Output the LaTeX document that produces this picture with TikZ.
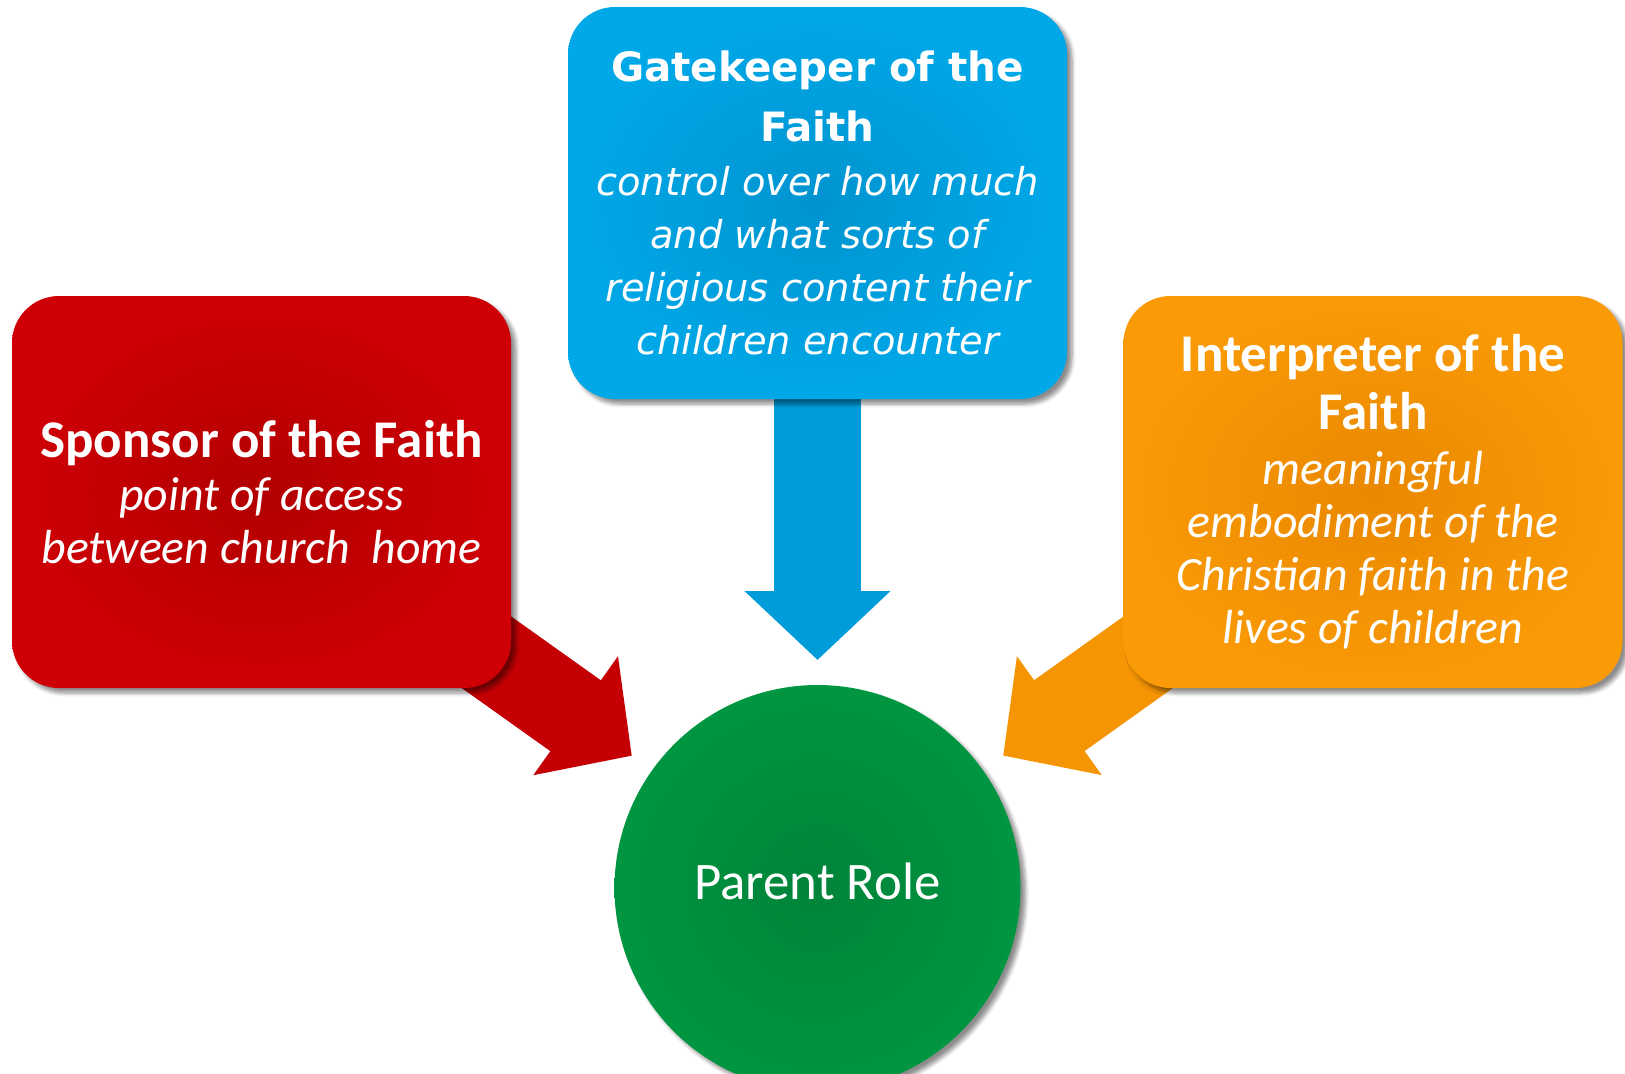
\documentclass[tikz,border=0pt]{standalone}
\usepackage{fontspec}
\setmainfont{Carlito}
\newfontfamily\gatefont{DejaVu Sans}
\usetikzlibrary{calc,arrows.meta,shadows.blur,backgrounds}

\definecolor{sponsorin}{HTML}{B20000}
\definecolor{sponsorout}{HTML}{CE0006}
\definecolor{gatein}{HTML}{0094D0}
\definecolor{gateout}{HTML}{00A8E8}
\definecolor{interpin}{HTML}{EA8800}
\definecolor{interpout}{HTML}{FA9A06}
\definecolor{parentin}{HTML}{00843A}
\definecolor{parentout}{HTML}{009540}

\tikzset{
  rolebox/.style={rectangle, rounded corners=23.5pt, minimum width=249.5pt,
    minimum height=196pt, inner sep=0pt, text=white, align=center,
    shading=radial,
    blur shadow={shadow xshift=2.5pt, shadow yshift=-2.5pt, shadow blur steps=6, shadow opacity=45}},
  rolearrow/.style={line width=43.5pt, -{Triangle[width=71pt,length=34.5pt]}},
}

\begin{document}
\begin{tikzpicture}[x=0.5pt,y=-0.5pt]
  \path[use as bounding box] (0,0) rectangle (1625,1073);
  \clip (0,0) rectangle (1625,1073);

  \node[rolebox, inner color=gatein, outer color=gateout,
        font=\gatefont\fontsize{19.2pt}{26.5pt}\selectfont] (gatekeeper) at (817.5,203)
    {{\bfseries\fontsize{20.2pt}{26.5pt}\selectfont Gatekeeper of the}\\[3.5pt]
     {\bfseries\fontsize{20.2pt}{26.5pt}\selectfont Faith}\\[0.5pt]
     {\itshape control over how much}\\
     {\itshape and what sorts of}\\
     {\itshape religious content their}\\
     {\itshape children encounter}};
  \node[rolebox, inner color=sponsorin, outer color=sponsorout,
        font=\fontsize{23.9pt}{26.5pt}\selectfont] (sponsor) at (261.5,492)
    {{\bfseries\fontsize{26.5pt}{26.5pt}\selectfont Sponsor of the Faith}\\
     {\itshape point of access}\\
     {\itshape between church\ \ home}};
  \node[rolebox, inner color=interpin, outer color=interpout,
        font=\fontsize{23.9pt}{26.5pt}\selectfont] (interpreter) at (1373,492)
    {{\bfseries\fontsize{26.5pt}{26.5pt}\selectfont Interpreter of the}\\[2.5pt]
     {\bfseries\fontsize{26.5pt}{26.5pt}\selectfont Faith}\\[1pt]
     {\itshape meaningful}\\
     {\itshape embodiment of the}\\
     {\itshape Christian faith in the}\\
     {\itshape lives of children}};
  \node[circle, minimum size=203pt, inner sep=0pt, shading=radial,
        inner color=parentin, outer color=parentout, text=white,
        font=\fontsize{26.4pt}{30pt}\selectfont,
        blur shadow={shadow xshift=2.5pt, shadow yshift=-2.5pt, shadow blur steps=6, shadow opacity=45}]
    (parent) at (817.5,888) {\raisebox{7.2pt}{Parent Role}};

  \coordinate (sponsortip) at ($(parent.center)!114pt!(sponsor.center)$);
  \coordinate (gatetip) at ($(parent.center)!114pt!(gatekeeper.center)$);
  \coordinate (interptip) at ($(parent.center)!114pt!(interpreter.center)$);

  \begin{pgfonlayer}{background}
    \draw[rolearrow, sponsorin!35!sponsorout] (sponsor.center) -- (sponsortip);
    \draw[rolearrow, gatein!60!gateout] (gatekeeper.center) -- (gatetip);
    \draw[rolearrow, interpin!30!interpout] (interpreter.center) -- (interptip);
  \end{pgfonlayer}
\end{tikzpicture}
\end{document}
